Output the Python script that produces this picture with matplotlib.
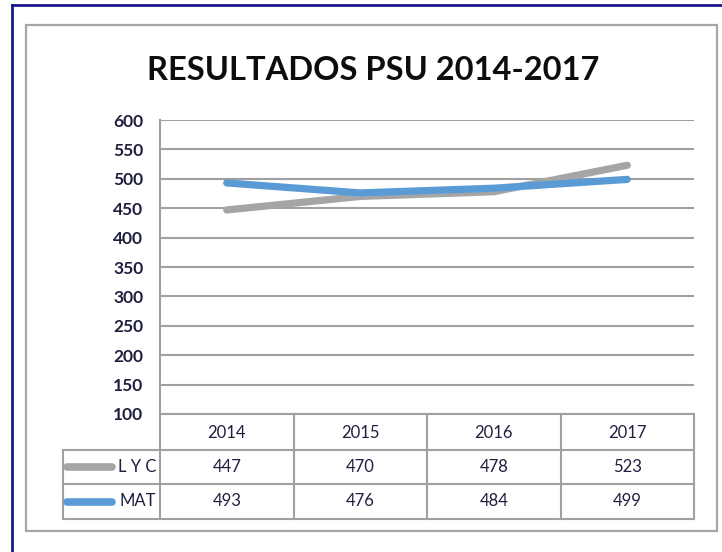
import matplotlib
matplotlib.use("Agg")
import matplotlib.pyplot as plt
from matplotlib.lines import Line2D
from matplotlib.patches import Rectangle

years = ["2014", "2015", "2016", "2017"]
series_names = ["L Y C", "MAT"]
lyc = [447, 470, 478, 523]
mat = [493, 476, 484, 499]
series_values = [lyc, mat]
colors = ["#A5A5A5", "#5B9BD5"]
yticks = [100, 150, 200, 250, 300, 350, 400, 450, 500, 550, 600]

W, H = 722, 552
fig = plt.figure(figsize=(W / 100, H / 100), dpi=100)
plt.rcParams['font.family'] = ['Lato', 'DejaVu Sans']

def fx(px):
    return px / W

def fy(py):
    return 1 - py / H

# outer navy borders
fig.add_artist(Line2D([fx(12), fx(12)], [fy(5), fy(552)], color="#1A1A8C", lw=2))
fig.add_artist(Line2D([fx(12), fx(722)], [fy(5), fy(5)], color="#1A1A8C", lw=2))
# grey chart frame
fig.add_artist(Rectangle((fx(26), fy(531)), fx(717) - fx(26), fy(25) - fy(531),
                         fill=False, edgecolor="#A6A6A6", lw=1.6))

L, R, T, B = 160, 694, 120, 414
ax = fig.add_axes([fx(L), fy(B), fx(R) - fx(L), fy(T) - fy(B)])
x = list(range(len(years)))
for vals, c in zip(series_values, colors):
    ax.plot(x, vals, color=c, lw=5.2, solid_capstyle="round", zorder=3)
ax.set_xlim(-0.5, len(years) - 0.5)
ax.set_ylim(100, 600)
ax.set_yticks(yticks)
ax.set_yticklabels([str(v) for v in yticks], fontsize=12.5, fontweight="bold", color="#1F1F3F")
ax.tick_params(axis="y", length=0, pad=12)
ax.set_xticks([])
for s in ["top", "right", "bottom"]:
    ax.spines[s].set_visible(False)
ax.spines["left"].set_color("#A0A0A0")
ax.spines["left"].set_linewidth(1.5)
ax.grid(axis="y", color="#A0A0A0", lw=1.5)
ax.set_axisbelow(True)

fig.text(fx(373), fy(70), "RESULTADOS PSU 2014-2017", ha="center", va="center",
         fontsize=23.5, fontweight="bold", color="#0D0D0D")

# data table below axis
gc = "#A0A0A0"
row_y = [414, 450, 484, 519]
col_x = [L + i * (R - L) / len(years) for i in range(len(years) + 1)]
def hline(y, x0, x1):
    fig.add_artist(Line2D([fx(x0), fx(x1)], [fy(y), fy(y)], color=gc, lw=1.5))
def vline(x0, y0, y1):
    fig.add_artist(Line2D([fx(x0), fx(x0)], [fy(y0), fy(y1)], color=gc, lw=1.5))
hline(414, L, R)
hline(450, 63, R)
hline(484, 63, R)
hline(519, 63, R)
for cx in col_x:
    vline(cx, 414, 519)
vline(63, 450, 519)
for i, yr in enumerate(years):
    fig.text(fx((col_x[i] + col_x[i + 1]) / 2), fy(433), yr, ha="center", va="center",
             fontsize=12, color="#1F1F3F")
for r, (name, vals, c) in enumerate(zip(series_names, series_values, colors)):
    yc = (row_y[r + 1] + row_y[r + 2]) / 2
    fig.add_artist(Line2D([fx(67), fx(112)], [fy(yc), fy(yc)], color=c, lw=5.5,
                          solid_capstyle="round"))
    fig.text(fx(156), fy(yc), name, ha="right", va="center", fontsize=12, color="#1F1F3F")
    for i, v in enumerate(vals):
        fig.text(fx((col_x[i] + col_x[i + 1]) / 2), fy(yc), str(v), ha="center", va="center",
                 fontsize=12, color="#1F1F3F")

fig.savefig("out.png", dpi=100, facecolor="white")
